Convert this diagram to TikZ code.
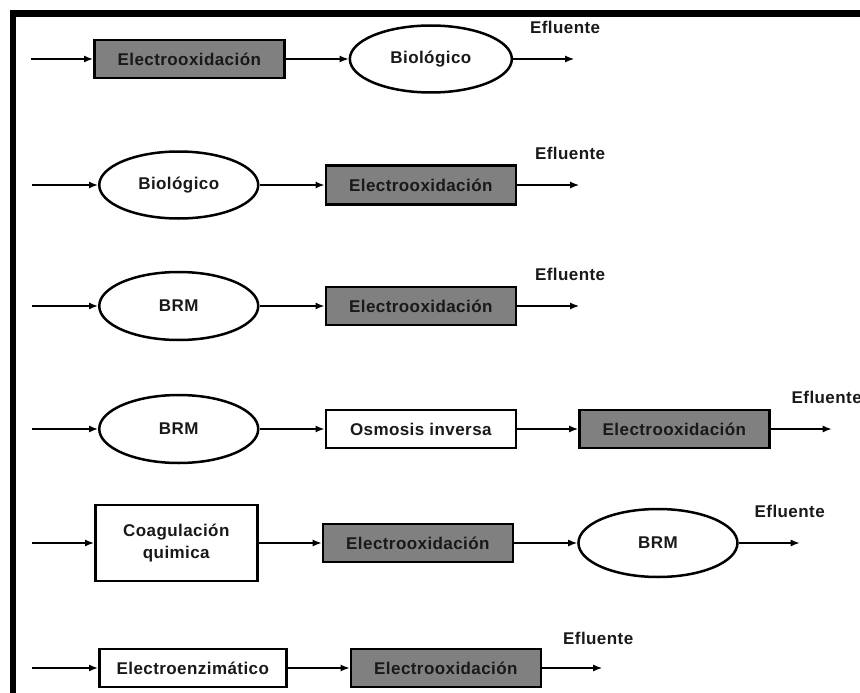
\documentclass[tikz,border=0pt]{standalone}
\usepackage{fontspec}
\setmainfont{Liberation Sans}[LetterSpace=2.5]
\usepackage{tikz}
\usetikzlibrary{arrows.meta}
\usetikzlibrary{shapes.geometric}
\usetikzlibrary{positioning, calc}
\definecolor{boxgray}{RGB}{128,128,128}
\definecolor{textdark}{RGB}{25,25,25}
\newcommand{\stagefont}{\bfseries\fontsize{17}{22}\selectfont\color{textdark}}
\tikzstyle{block} = [draw,rectangle,line width=2.6pt,minimum height=38pt,minimum width=190pt,inner sep=0pt,font=\stagefont,align=center]
\tikzstyle{oxblock} = [block,fill=boxgray]
\tikzstyle{stage} = [draw,ellipse,line width=2.5pt,minimum height=67pt,minimum width=159pt,inner sep=0pt,font=\stagefont]
\tikzstyle{connector} = [-{Latex[length=9pt,width=7pt]},line width=1.4pt]
\tikzstyle{outlabel} = [inner sep=0pt,font=\stagefont]

\begin{document}
\begin{tikzpicture}[x=1pt,y=1pt]
  \useasboundingbox (0,0) rectangle (860,-693);
  \draw[line width=6.5pt] (13,-720) -- (13,-13.5) -- (900,-13.5);

  % row 1
  \coordinate (in1) at (31,-59);
  \node[oxblock, right = 62pt of in1] (ox1) {Electrooxidación};
  \node[stage, minimum width=162pt, right = 63pt of ox1] (bio1) {Biológico};
  \coordinate[right = 61pt of bio1] (out1);
  \node[outlabel, above = 25pt of out1, xshift=-9pt] (ef1) {Efluente};

  % row 2
  \coordinate (in2) at (32,-185);
  \node[stage, right = 66pt of in2] (bio2) {Biológico};
  \node[oxblock, minimum height=39pt, right = 65pt of bio2] (ox2) {Electrooxidación};
  \coordinate[right = 62pt of ox2] (out2);
  \node[outlabel, above = 25pt of out2, xshift=-9pt] (ef2) {Efluente};

  % row 3
  \coordinate (in3) at (32,-306);
  \node[stage, minimum height=68pt, right = 66pt of in3] (brm3) {BRM};
  \node[oxblock, right = 65pt of brm3] (ox3) {Electrooxidación};
  \coordinate[right = 62pt of ox3] (out3);
  \node[outlabel, above = 25pt of out3, xshift=-9pt] (ef3) {Efluente};

  % row 4
  \coordinate (in4) at (32,-429);
  \node[stage, minimum height=68pt, right = 66pt of in4] (brm4) {BRM};
  \node[block, right = 65pt of brm4] (osm4) {Osmosis inversa};
  \node[oxblock, right = 61pt of osm4] (ox4) {Electrooxidación};
  \coordinate[right = 61pt of ox4] (out4);
  \node[outlabel, above = 25pt of out4, xshift=-5pt] (ef4) {Efluente};

  % row 5
  \coordinate (in5) at (32,-543);
  \node[block, minimum width=162pt, minimum height=76pt, right = 62pt of in5] (coag5) {Coagulación\\quimica};
  \node[oxblock, right = 63pt of coag5] (ox5) {Electrooxidación};
  \node[stage, minimum height=68pt, right = 63pt of ox5] (brm5) {BRM};
  \coordinate[right = 61pt of brm5] (out5);
  \node[outlabel, above = 25pt of out5, xshift=-10pt] (ef5) {Efluente};

  % row 6
  \coordinate (in6) at (32,-668);
  \node[block, minimum width=187pt, right = 66pt of in6] (enz6) {Electroenzimático};
  \node[oxblock, right = 62pt of enz6] (ox6) {Electrooxidación};
  \coordinate[right = 60pt of ox6] (out6);
  \node[outlabel, above = 23pt of out6, xshift=-4pt] (ef6) {Efluente};

% now link the nodes

\draw [connector] (in1) -- (ox1);
\draw [connector] (ox1) -- (bio1);
\draw [connector] (bio1) -- (out1);

\draw [connector] (in2) -- (bio2);
\draw [connector] (bio2) -- (ox2);
\draw [connector] (ox2) -- (out2);

\draw [connector] (in3) -- (brm3);
\draw [connector] (brm3) -- (ox3);
\draw [connector] (ox3) -- (out3);

\draw [connector] (in4) -- (brm4);
\draw [connector] (brm4) -- (osm4);
\draw [connector] (osm4) -- (ox4);
\draw [connector] (ox4) -- (out4);

\draw [connector] (in5) -- (coag5);
\draw [connector] (coag5) -- (ox5);
\draw [connector] (ox5) -- (brm5);
\draw [connector] (brm5) -- (out5);

\draw [connector] (in6) -- (enz6);
\draw [connector] (enz6) -- (ox6);
\draw [connector] (ox6) -- (out6);
\end{tikzpicture}
\end{document}
